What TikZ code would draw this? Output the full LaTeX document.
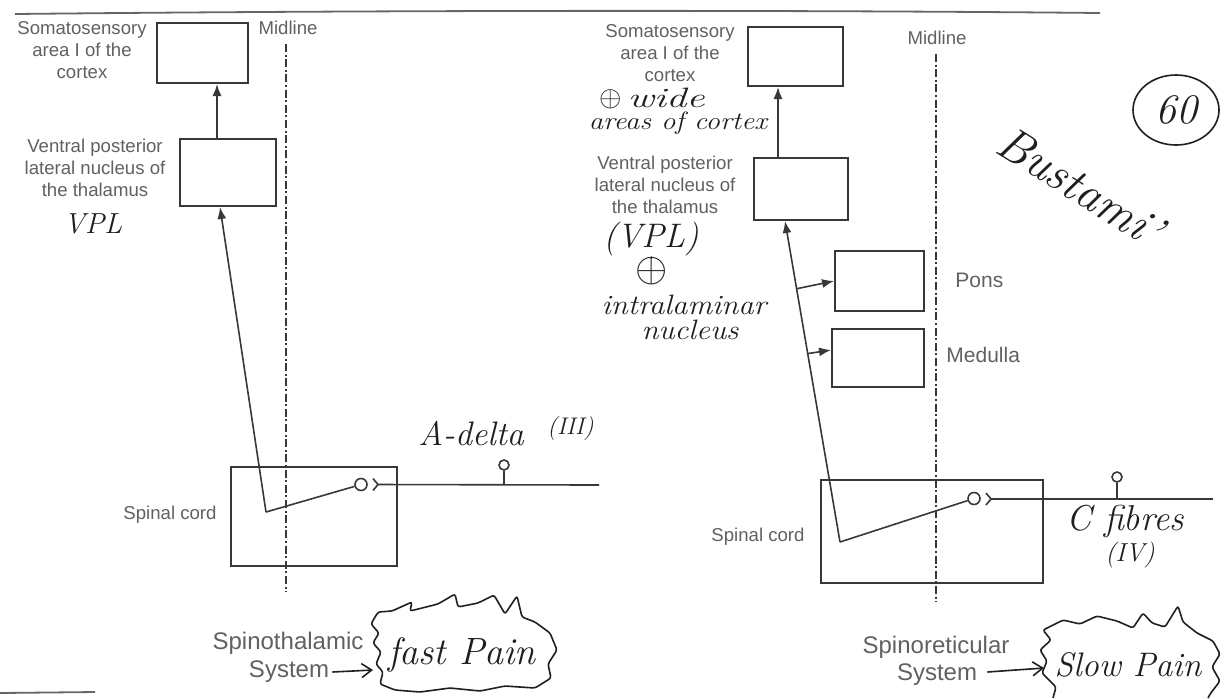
\documentclass[tikz,border=0pt]{standalone}
\usepackage{fontspec}
\newfontfamily\pr{Liberation Sans}
\newcommand{\hand}{\rmfamily\itshape}
\usetikzlibrary{arrows.meta,calc}
\definecolor{ink}{gray}{0.22}
\definecolor{print}{gray}{0.38}
\definecolor{pen}{gray}{0.12}
\begin{document}
\begin{tikzpicture}[x=0.5pt,y=-0.5pt,
  box/.style={draw=ink,line width=1pt,inner sep=0pt},
  lbl/.style={text=print,font=\pr\fontsize{9.3}{11}\selectfont,align=center,inner sep=0pt},
  big/.style={text=print,font=\pr\fontsize{12}{14}\selectfont,inner sep=0pt},
  mid/.style={text=print,font=\pr\fontsize{10.5}{12}\selectfont,inner sep=0pt},
  hw/.style={text=pen,inner sep=0pt},
  tract/.style={draw=ink,line width=0.8pt},
  arr/.style={draw=ink,line width=0.8pt,-{Latex[length=6pt,width=4.5pt]}},
  midline/.style={draw=ink,line width=0.9pt,dash pattern=on 4pt off 1.3pt on 1pt off 1.3pt},
  soma/.style={circle,draw=ink,line width=0.8pt,inner sep=0pt},
  penline/.style={draw=pen,line width=0.8pt,rounded corners=1.2pt},
  rule/.style={draw=black!60,line width=0.9pt}]
\useasboundingbox (0,0) rectangle (1225,698);
\fill[white] (0,0) rectangle (1225,698);

% page rules
\draw[rule] (15,14) .. controls (400,10) and (800,10) .. (1100,13);
\draw[rule] (0,693) -- (95,692);

% ================= LEFT: spinothalamic =================
\node[box,minimum width=45.5pt,minimum height=30pt] (cortexL) at (202.5,53) {};
\node[box,minimum width=48pt,minimum height=33.5pt] (thalL) at (228,172.5) {};
\node[box,minimum width=83pt,minimum height=49.5pt] (spinalL) at (314,516.5) {};

\node[lbl] (cortexLt) at (82,50) {Somatosensory\\area I of the\\cortex};
\node[lbl] (thalLt) at (95,168) {Ventral posterior\\lateral nucleus of\\the thalamus};
\node[lbl] (spinalLt) at (170,515) {Spinal cord};
\node[lbl] (midLt) at (288,28) {Midline};

\coordinate (midLtop) at (286,44);
\coordinate (midLbot) at (286,592);
\draw[midline] (midLtop) -- (midLbot);

\draw[arr] ([xshift=-5.5pt]thalL.north) -- ([xshift=-5.5pt]thalL.north |- cortexL.south);

\node[soma,minimum size=6pt] (synL) at (361,484.5) {};
\coordinate (kinkL) at (266,512);
\draw[tract] (synL) -- (kinkL);
\draw[arr] (kinkL) -- ([xshift=-4pt]thalL.south);
\coordinate (termL) at (378,484.5);
\coordinate (fibL) at (599,485);
\draw[tract] ([shift={(-5,-6)}]termL) -- (termL) -- ([shift={(-5,6)}]termL);
\draw[tract] (termL) -- (fibL);
\node[soma,minimum size=5pt] (bodyL) at (504,465) {};
\draw[tract] (bodyL.south) -- (bodyL.south |- fibL);

\node[hw,font=\hand\fontsize{14.5}{16}\selectfont] (vplL) at (93,224) {VPL};
\node[hw,font=\hand\fontsize{17}{18}\selectfont,anchor=base west] (adelta) at (418,445) {A-delta};
\node[hw,font=\hand\fontsize{12}{14}\selectfont,anchor=base west] (adeltaIII) at (547,434) {(III)};

\node[big] (stL1) at (288,643) {Spinothalamic};
\node[big] (stL2) at (289,672) {System};
\coordinate (stArrL) at (373,670);
\draw[draw=pen,line width=0.8pt,-{Straight Barb[length=5pt,width=7pt]}] (stL2.east) ++(3,0) -- (stArrL);

\draw[penline] (378,612) -- (392,611) -- (412,602) -- (410,611) -- (438,604) -- (455,594) -- (458,607) -- (478,603) -- (494,595) -- (505,614) -- (517,596) -- (522,617) -- (535,622) -- (550,633) -- (557,650) -- (548,664) -- (551,678) -- (535,688) -- (505,686) -- (480,691) -- (450,688) -- (420,692) -- (395,690) -- (380,684) -- (383,672) -- (376,664) -- (381,652) -- (373,643) -- (379,633) -- (371,624) -- cycle;
\node[hw,font=\hand\fontsize{19}{20}\selectfont] (fastpain) at (462,655) {fast Pain};

% ================= RIGHT: spinoreticular =================
\node[box,minimum width=47.5pt,minimum height=29.5pt] (cortexR) at (795.5,56.5) {};
\node[box,minimum width=47pt,minimum height=31pt] (thalR) at (801,189) {};
\node[box,minimum width=44.5pt,minimum height=30pt] (pons) at (879.5,281) {};
\node[box,minimum width=46pt,minimum height=29pt] (medulla) at (878,358) {};
\node[box,minimum width=111pt,minimum height=51.5pt] (spinalR) at (932,531.5) {};

\node[lbl] (cortexRt) at (670,53) {Somatosensory\\area I of the\\cortex};
\node[lbl] (thalRt) at (665,185) {Ventral posterior\\lateral nucleus of\\the thalamus};
\node[lbl] (spinalRt) at (758,537) {Spinal cord};
\node[lbl] (midRt) at (937,38) {Midline};
\node[mid,anchor=west] (ponst) at (955,280) {Pons};
\node[mid,anchor=west] (medullat) at (946,355) {Medulla};

\coordinate (midRtop) at (936,54);
\coordinate (midRbot) at (936,602);
\draw[midline] (midRtop) -- (midRbot);

\draw[arr] ([xshift=-11.5pt]thalR.north) -- ([xshift=-11.5pt]thalR.north |- cortexR.south);

\node[soma,minimum size=6pt] (synR) at (974,498.5) {};
\coordinate (kinkR) at (840,542);
\coordinate (tipR) at ([xshift=-8pt]thalR.south);
\draw[tract] (synR) -- (kinkR);
\draw[arr] (kinkR) -- (tipR);
\path (kinkR) -- (tipR) coordinate[pos=0.789] (brPons) coordinate[pos=0.587] (brMed);
\draw[arr] (brPons) -- (pons.west);
\draw[arr] (brMed) -- ([yshift=4pt]medulla.west);
\coordinate (termR) at (991,499);
\coordinate (fibR) at (1213,499);
\draw[tract] ([shift={(-5,-6)}]termR) -- (termR) -- ([shift={(-5,6)}]termR);
\draw[tract] (termR) -- (fibR);
\node[soma,minimum size=5pt] (bodyR) at (1117,477) {};
\draw[tract] (bodyR.south) -- (bodyR.south |- fibR);

\node[hw,font=\fontsize{15}{16}\selectfont] (plus1) at (611,99) {$\oplus$};
\node[hw,font=\hand\fontsize{14}{15}\selectfont,xscale=1.45,anchor=west] (wide) at (627,98) {wide};
\node[hw,font=\hand\fontsize{12.5}{13}\selectfont,xscale=1.15] (areas) at (678,123) {areas of cortex};
\node[hw,font=\hand\fontsize{17}{18}\selectfont] (vplR) at (651,239) {(VPL)};
\node[hw,font=\fontsize{21}{22}\selectfont] (plus2) at (652,271) {$\oplus$};
\draw[draw=pen,line width=0.8pt] (vplR.south) ++(0,2) -- (plus2.north);
\node[hw,font=\hand\fontsize{14}{15}\selectfont,xscale=1.1] (intra) at (684,305) {intralaminar};
\node[hw,font=\hand\fontsize{14}{15}\selectfont,xscale=1.1] (nucl) at (690,330) {nucleus};
\node[hw,font=\hand\fontsize{18}{19}\selectfont] (cfib) at (1125,521) {C fibres};
\node[hw,font=\hand\fontsize{13}{14}\selectfont] (cfibIV) at (1130,555) {(IV)};

\node[big] (srL1) at (936,647) {Spinoreticular};
\node[big] (srL2) at (937,675) {System};
\coordinate (srArr) at (1044,668);
\draw[draw=pen,line width=0.8pt,-{Straight Barb[length=5pt,width=7pt]}] (srL2.east) ++(10,-3) -- (srArr);

\draw[penline] (1053,698) -- (1056,687) -- (1042,673) -- (1047,661) -- (1040,650) -- (1051,640) -- (1043,630) -- (1063,620) -- (1080,624) -- (1097,616) -- (1117,621) -- (1133,628) -- (1143,613) -- (1152,623) -- (1165,627) -- (1178,606) -- (1183,622) -- (1197,633) -- (1213,641) -- (1220,654) -- (1212,667) -- (1220,681) -- (1210,694) -- (1208,698);
\node[hw,font=\hand\fontsize{17}{18}\selectfont] (slowpain) at (1128,665) {Slow Pain};

% signature and page number
\node[hw,font=\hand\fontsize{24}{26}\selectfont,rotate=-32] (sig) at (1080,186) {Bustami'};
\node[hw,font=\hand\fontsize{21}{22}\selectfont] (pg) at (1176,110) {60};
\draw[draw=pen,line width=0.8pt] (pg) ellipse [x radius=43, y radius=35];
\end{tikzpicture}
\end{document}
